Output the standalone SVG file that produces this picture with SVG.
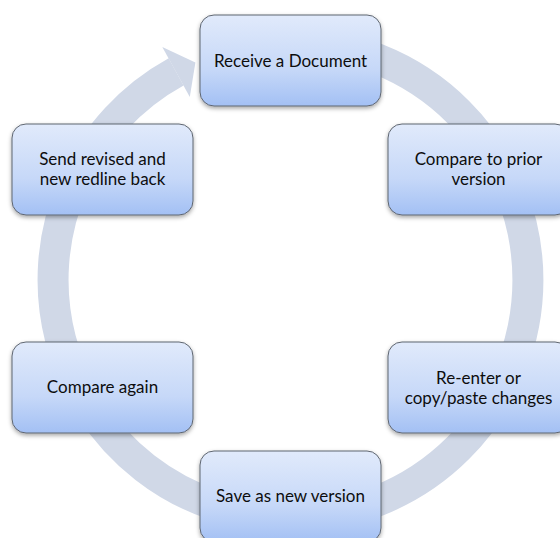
<svg xmlns="http://www.w3.org/2000/svg" width="560" height="538" viewBox="0 0 560 538">
  <defs>
    <linearGradient id="boxFill" x1="0" y1="0" x2="0" y2="1">
      <stop offset="0" stop-color="#e1eafb"/>
      <stop offset="0.6" stop-color="#c6d8f8"/>
      <stop offset="1" stop-color="#a3c0f4"/>
    </linearGradient>
    <filter id="shadow" x="-10%" y="-10%" width="125%" height="130%">
      <feDropShadow dx="0" dy="2" stdDeviation="2" flood-color="#000" flood-opacity="0.35"/>
    </filter>
  </defs>
  <style>
    .box { fill: url(#boxFill); stroke: #5f6670; stroke-width: 1; filter: url(#shadow); }
    .label { font-family: Lato, "Open Sans", sans-serif; font-size: 17px; fill: #0d0d0d; text-anchor: middle; }
    .band { fill: none; stroke: #d0d8e7; stroke-width: 31; }
    .head { fill: #d0d8e7; }
  </style>

  <rect width="560" height="538" fill="#ffffff"/>

  <!-- circular cycle arrow running clockwise behind the steps -->
  <g id="connectors">
    <path class="band" d="M 290.5 42.5 A 237.5 237.5 0 0 1 290.5 517.5 A 237.5 237.5 0 0 1 176.1 71.9"/>
    <polygon class="head" points="162.3,46.9 195.4,62.4 189.8,96.9"/>
  </g>

  <g id="receive">
    <rect class="box" x="200" y="15" width="181" height="91" rx="14"/>
    <text class="label" x="290.5" y="66.5">Receive a Document</text>
  </g>

  <g id="compare-prior">
    <rect class="box" x="388" y="124" width="181" height="91" rx="14"/>
    <text class="label" x="478.5" y="165">Compare to prior</text>
    <text class="label" x="478.5" y="184.5">version</text>
  </g>

  <g id="reenter">
    <rect class="box" x="388" y="342" width="181" height="91" rx="14"/>
    <text class="label" x="478.5" y="384">Re-enter or</text>
    <text class="label" x="478.5" y="403.5">copy/paste changes</text>
  </g>

  <g id="save">
    <rect class="box" x="200" y="451" width="181" height="91" rx="14"/>
    <text class="label" x="290.5" y="502">Save as new version</text>
  </g>

  <g id="compare-again">
    <rect class="box" x="12" y="342" width="181" height="91" rx="14"/>
    <text class="label" x="102.5" y="393">Compare again</text>
  </g>

  <g id="send-back">
    <rect class="box" x="12" y="124" width="181" height="91" rx="14"/>
    <text class="label" x="102.5" y="165">Send revised and</text>
    <text class="label" x="102.5" y="184.5">new redline back</text>
  </g>
</svg>
